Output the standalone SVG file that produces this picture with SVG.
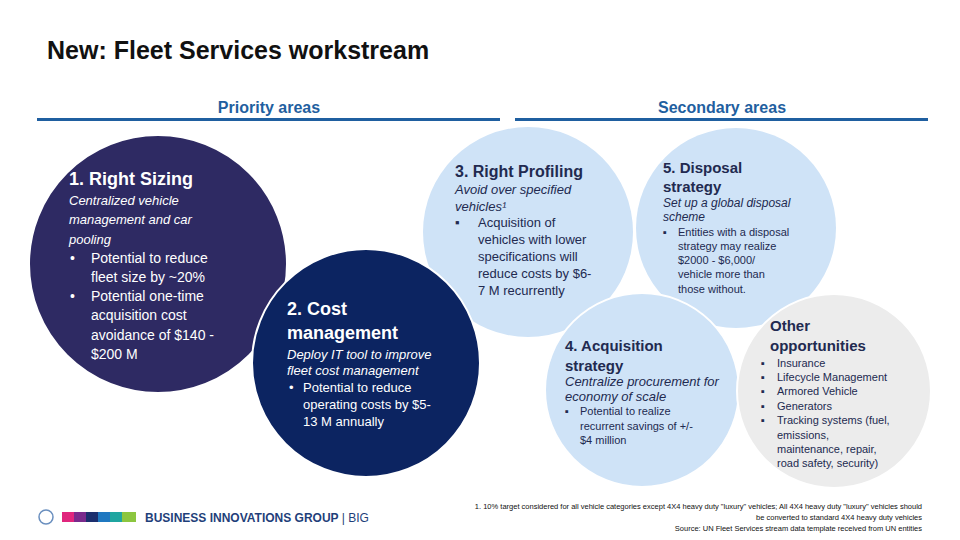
<svg xmlns="http://www.w3.org/2000/svg" width="960" height="540" viewBox="0 0 960 540">
<style>
text{font-family:"Liberation Sans",Arial,sans-serif}
.h{font-weight:bold;font-size:18px}
.i{font-style:italic;font-size:13px}
.b{font-size:13px}
.w{fill:#fff}
.d{fill:#222a50}
.s{font-size:12px}
</style>
<rect width="960" height="540" fill="#fff"/>
<text x="47" y="59" font-size="25" font-weight="bold" fill="#111">New: Fleet Services workstream</text>
<text x="269" y="113" text-anchor="middle" font-size="16" font-weight="bold" fill="#1f5fa0">Priority areas</text>
<text x="722" y="113" text-anchor="middle" font-size="16" font-weight="bold" fill="#1f5fa0">Secondary areas</text>
<rect x="37" y="118" width="463" height="3" fill="#1f5fa0"/>
<rect x="515" y="118" width="413" height="3" fill="#1f5fa0"/>
<g id="n3"><circle cx="528" cy="232" r="105" fill="#cfe3f7"/>
<text x="455" y="177" font-size="16" font-weight="bold" class="d">3. Right Profiling</text>
<text class="i d" x="455" y="194">Avoid over specified</text>
<text class="i d" x="455" y="211">vehicles¹</text>
<text class="b d" x="455" y="227">▪</text>
<text class="b d"><tspan x="478" y="227">Acquisition of</tspan><tspan x="478" y="244">vehicles with lower</tspan><tspan x="478" y="261">specifications will</tspan><tspan x="478" y="278">reduce costs by $6-</tspan><tspan x="478" y="295">7 M recurrently</tspan></text></g>
<g id="n5"><circle cx="736" cy="228" r="100" fill="#cfe3f7"/>
<text font-size="15" font-weight="bold" class="d"><tspan x="663" y="173">5. Disposal</tspan><tspan x="663" y="192">strategy</tspan></text>
<text class="i d s" font-size="11"><tspan x="663" y="207">Set up a global disposal</tspan><tspan x="663" y="221">scheme</tspan></text>
<text class="d" font-size="11"><tspan x="663" y="236">▪</tspan><tspan x="678" y="236">Entities with a disposal</tspan><tspan x="678" y="250">strategy may realize</tspan><tspan x="678" y="264">$2000 - $6,000/</tspan><tspan x="678" y="278">vehicle more than</tspan><tspan x="678" y="293">those without.</tspan></text></g>
<g id="n1"><circle cx="158" cy="264" r="129" fill="#2e2a63" stroke="#fff" stroke-width="2"/>
<text x="69" y="185" class="h w" font-size="19">1. Right Sizing</text>
<text class="i w" font-size="14"><tspan x="69" y="205">Centralized vehicle</tspan><tspan x="69" y="224">management and car</tspan><tspan x="69" y="244">pooling</tspan></text>
<text class="w" font-size="14"><tspan x="70" y="263">•</tspan><tspan x="91" y="263">Potential to reduce</tspan><tspan x="91" y="282">fleet size by ~20%</tspan><tspan x="70" y="301">•</tspan><tspan x="91" y="301">Potential one-time</tspan><tspan x="91" y="320">acquisition cost</tspan><tspan x="91" y="340">avoidance of $140 -</tspan><tspan x="91" y="359">$200 M</tspan></text></g>
<g id="n2"><circle cx="366" cy="363" r="114" fill="#0c2461" stroke="#fff" stroke-width="2"/>
<text class="h w"><tspan x="287" y="315">2. Cost</tspan><tspan x="287" y="339">management</tspan></text>
<text class="i w"><tspan x="287" y="359">Deploy IT tool to improve</tspan><tspan x="287" y="375">fleet cost management</tspan></text>
<text class="b w"><tspan x="289" y="392">•</tspan><tspan x="303" y="392">Potential to reduce</tspan><tspan x="303" y="409">operating costs by $5-</tspan><tspan x="303" y="426">13 M annually</tspan></text></g>
<g id="n4"><circle cx="642" cy="390" r="97" fill="#cfe3f7" stroke="#fff" stroke-width="2"/>
<text font-size="15" font-weight="bold" class="d"><tspan x="565" y="351">4. Acquisition</tspan><tspan x="565" y="371">strategy</tspan></text>
<text class="i d" font-size="11"><tspan x="565" y="386">Centralize procurement for</tspan><tspan x="565" y="401">economy of scale</tspan></text>
<text class="d" font-size="11"><tspan x="565" y="415">▪</tspan><tspan x="580" y="415">Potential to realize</tspan><tspan x="580" y="430">recurrent  savings of +/-</tspan><tspan x="580" y="444">$4 million</tspan></text></g>
<g id="n6"><circle cx="834" cy="391" r="97" fill="#ececec" stroke="#fff" stroke-width="2"/>
<text font-size="15" font-weight="bold" class="d"><tspan x="770" y="331">Other</tspan><tspan x="770" y="351">opportunities</tspan></text>
<text class="d" font-size="11"><tspan x="761" y="367">▪</tspan><tspan x="777" y="367">Insurance</tspan><tspan x="761" y="381">▪</tspan><tspan x="777" y="381">Lifecycle Management</tspan><tspan x="761" y="395">▪</tspan><tspan x="777" y="395">Armored Vehicle</tspan><tspan x="761" y="410">▪</tspan><tspan x="777" y="410">Generators</tspan><tspan x="761" y="424">▪</tspan><tspan x="777" y="424">Tracking systems (fuel,</tspan><tspan x="777" y="439">emissions,</tspan><tspan x="777" y="453">maintenance, repair,</tspan><tspan x="777" y="467">road safety, security)</tspan></text></g>
<g id="connectors"/>
<g id="footer">
<circle cx="46" cy="517" r="7" fill="none" stroke="#6a8fbf" stroke-width="1.5"/>
<rect x="62" y="512" width="12" height="10" fill="#e0267d"/>
<rect x="74" y="512" width="12" height="10" fill="#7a2a8c"/>
<rect x="86" y="512" width="12" height="10" fill="#1c2f6e"/>
<rect x="98" y="512" width="12" height="10" fill="#1f78c0"/>
<rect x="110" y="512" width="12" height="10" fill="#1fa5a0"/>
<rect x="122" y="512" width="14" height="10" fill="#8cc63f"/>
<text x="145" y="522" font-size="12" font-weight="bold" fill="#1f3f7a">BUSINESS INNOVATIONS GROUP <tspan font-weight="normal">| BIG</tspan></text>
<text font-size="7.5" fill="#111" text-anchor="end"><tspan x="922" y="509">1. 10% target considered for all vehicle categories except 4X4 heavy duty "luxury" vehicles; All 4X4 heavy duty "luxury" vehicles should</tspan><tspan x="922" y="520">be converted to standard 4X4 heavy duty vehicles</tspan><tspan x="922" y="531">Source: UN Fleet Services stream data template received from UN entities</tspan></text>
</g>
</svg>
